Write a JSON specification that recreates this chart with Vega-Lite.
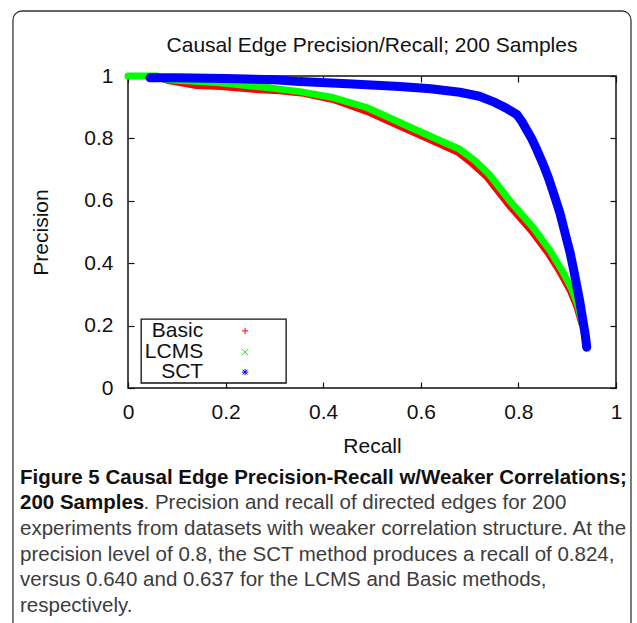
{
  "$schema": "https://vega.github.io/schema/vega-lite/v6.json",
  "width": 488,
  "height": 312,
  "autosize": "none",
  "padding": {"left": 128, "top": 76, "right": 21, "bottom": 235},
  "background": "white",
  "config": {
    "view": {"stroke": "#111", "strokeWidth": 1.5},
    "axis": {"grid": false, "domain": false, "labelFlush": false, "labelFont": "Liberation Sans", "labelFontSize": 21, "labelColor": "#111", "titleFont": "Liberation Sans", "titleFontSize": 21, "titleFontWeight": "normal", "titleColor": "#111", "tickColor": "#111", "tickSize": -6, "tickWidth": 1.2}
  },
  "datasets": {
    "curves": [
      {"method": "Basic", "recall": 0.0, "precision": 1.0},
      {"method": "Basic", "recall": 0.05, "precision": 1.0},
      {"method": "Basic", "recall": 0.08, "precision": 0.985},
      {"method": "Basic", "recall": 0.14, "precision": 0.968},
      {"method": "Basic", "recall": 0.19, "precision": 0.965},
      {"method": "Basic", "recall": 0.27, "precision": 0.954},
      {"method": "Basic", "recall": 0.31, "precision": 0.951},
      {"method": "Basic", "recall": 0.36, "precision": 0.943},
      {"method": "Basic", "recall": 0.42, "precision": 0.923},
      {"method": "Basic", "recall": 0.489, "precision": 0.885},
      {"method": "Basic", "recall": 0.557, "precision": 0.837},
      {"method": "Basic", "recall": 0.625, "precision": 0.79},
      {"method": "Basic", "recall": 0.675, "precision": 0.755},
      {"method": "Basic", "recall": 0.705, "precision": 0.718},
      {"method": "Basic", "recall": 0.735, "precision": 0.675},
      {"method": "Basic", "recall": 0.78, "precision": 0.585},
      {"method": "Basic", "recall": 0.825, "precision": 0.505},
      {"method": "Basic", "recall": 0.86, "precision": 0.432},
      {"method": "Basic", "recall": 0.886, "precision": 0.367},
      {"method": "Basic", "recall": 0.906, "precision": 0.31},
      {"method": "Basic", "recall": 0.919, "precision": 0.26},
      {"method": "Basic", "recall": 0.926, "precision": 0.222},
      {"method": "Basic", "recall": 0.929, "precision": 0.205},
      {"method": "LCMS", "recall": 0.0, "precision": 1.0},
      {"method": "LCMS", "recall": 0.06, "precision": 1.0},
      {"method": "LCMS", "recall": 0.075, "precision": 0.99},
      {"method": "LCMS", "recall": 0.1, "precision": 0.986},
      {"method": "LCMS", "recall": 0.189, "precision": 0.978},
      {"method": "LCMS", "recall": 0.291, "precision": 0.962},
      {"method": "LCMS", "recall": 0.352, "precision": 0.95},
      {"method": "LCMS", "recall": 0.42, "precision": 0.931},
      {"method": "LCMS", "recall": 0.489, "precision": 0.899},
      {"method": "LCMS", "recall": 0.557, "precision": 0.851},
      {"method": "LCMS", "recall": 0.625, "precision": 0.803},
      {"method": "LCMS", "recall": 0.68, "precision": 0.765},
      {"method": "LCMS", "recall": 0.71, "precision": 0.73},
      {"method": "LCMS", "recall": 0.74, "precision": 0.685},
      {"method": "LCMS", "recall": 0.785, "precision": 0.595},
      {"method": "LCMS", "recall": 0.83, "precision": 0.515},
      {"method": "LCMS", "recall": 0.865, "precision": 0.44},
      {"method": "LCMS", "recall": 0.89, "precision": 0.375},
      {"method": "LCMS", "recall": 0.91, "precision": 0.315},
      {"method": "LCMS", "recall": 0.922, "precision": 0.265},
      {"method": "LCMS", "recall": 0.928, "precision": 0.225},
      {"method": "LCMS", "recall": 0.931, "precision": 0.205},
      {"method": "SCT", "recall": 0.045, "precision": 0.994},
      {"method": "SCT", "recall": 0.1, "precision": 0.994},
      {"method": "SCT", "recall": 0.2, "precision": 0.992},
      {"method": "SCT", "recall": 0.3, "precision": 0.988},
      {"method": "SCT", "recall": 0.352, "precision": 0.982},
      {"method": "SCT", "recall": 0.45, "precision": 0.975},
      {"method": "SCT", "recall": 0.557, "precision": 0.966},
      {"method": "SCT", "recall": 0.62, "precision": 0.959},
      {"method": "SCT", "recall": 0.68, "precision": 0.948},
      {"method": "SCT", "recall": 0.72, "precision": 0.935},
      {"method": "SCT", "recall": 0.748, "precision": 0.918},
      {"method": "SCT", "recall": 0.775, "precision": 0.897},
      {"method": "SCT", "recall": 0.797, "precision": 0.876},
      {"method": "SCT", "recall": 0.808, "precision": 0.852},
      {"method": "SCT", "recall": 0.817, "precision": 0.827},
      {"method": "SCT", "recall": 0.827, "precision": 0.8},
      {"method": "SCT", "recall": 0.838, "precision": 0.763},
      {"method": "SCT", "recall": 0.85, "precision": 0.72},
      {"method": "SCT", "recall": 0.861, "precision": 0.676},
      {"method": "SCT", "recall": 0.873, "precision": 0.62},
      {"method": "SCT", "recall": 0.885, "precision": 0.561},
      {"method": "SCT", "recall": 0.895, "precision": 0.5},
      {"method": "SCT", "recall": 0.906, "precision": 0.433},
      {"method": "SCT", "recall": 0.913, "precision": 0.38},
      {"method": "SCT", "recall": 0.92, "precision": 0.324},
      {"method": "SCT", "recall": 0.926, "precision": 0.275},
      {"method": "SCT", "recall": 0.932, "precision": 0.218},
      {"method": "SCT", "recall": 0.937, "precision": 0.17},
      {"method": "SCT", "recall": 0.94, "precision": 0.131}
    ],
    "legend": [
      {"method": "Basic", "lx": 0.154, "sx": 0.24, "ly": 0.183},
      {"method": "LCMS", "lx": 0.154, "sx": 0.24, "ly": 0.115},
      {"method": "SCT", "lx": 0.154, "sx": 0.24, "ly": 0.051}
    ],
    "boxes": [
      {"kind": "frame", "x1": -0.2357, "x2": 1.0307, "y1": 1.2083, "y2": -0.95},
      {"kind": "legend", "x1": 0.027, "x2": 0.324, "y1": 0.221, "y2": 0.016}
    ],
    "titles": [
      {"tx": 0.5, "ty": 1.077, "text": "Causal Edge Precision/Recall; 200 Samples"}
    ],
    "caption": [
      {"weight": "bold", "cx": -0.2213, "cy": -0.288, "text": "Figure 5 Causal Edge Precision-Recall w/Weaker Correlations;"},
      {"weight": "bold", "cx": -0.2213, "cy": -0.37, "text": "200 Samples"},
      {"weight": "normal", "cx": 0.0318, "cy": -0.37, "text": ". Precision and recall of directed edges for 200"},
      {"weight": "normal", "cx": -0.2213, "cy": -0.452, "text": "experiments from datasets with weaker correlation structure. At the"},
      {"weight": "normal", "cx": -0.2213, "cy": -0.534, "text": "precision level of 0.8, the SCT method produces a recall of 0.824,"},
      {"weight": "normal", "cx": -0.2213, "cy": -0.616, "text": "versus 0.640 and 0.637 for the LCMS and Basic methods,"},
      {"weight": "normal", "cx": -0.2213, "cy": -0.698, "text": "respectively."}
    ]
  },
  "resolve": {"axis": {"x": "independent", "y": "independent"}},
  "layer": [
    {
      "data": {"name": "boxes"},
      "transform": [{"filter": "datum.kind === 'frame'"}],
      "mark": {"type": "rect", "fill": "transparent", "stroke": "#333", "strokeWidth": 1.3, "cornerRadius": 9},
      "encoding": {
        "x": {"field": "x1", "type": "quantitative", "scale": {"domain": [0, 1], "nice": false, "zero": false}, "axis": null},
        "x2": {"field": "x2"},
        "y": {"field": "y1", "type": "quantitative", "scale": {"domain": [0, 1], "nice": false, "zero": false}, "axis": null},
        "y2": {"field": "y2"}
      }
    },
    {
      "data": {"name": "curves"},
      "transform": [{"filter": "datum.method === 'Basic'"}],
      "mark": {"type": "line", "color": "#ff0000", "strokeWidth": 6, "strokeCap": "round", "strokeJoin": "round"},
      "encoding": {
        "x": {"field": "recall", "type": "quantitative", "axis": {"orient": "bottom", "values": [0, 0.2, 0.4, 0.6, 0.8, 1], "format": "~g", "title": "Recall", "labelPadding": 19, "titlePadding": 13}},
        "y": {"field": "precision", "type": "quantitative", "axis": {"orient": "left", "values": [0, 0.2, 0.4, 0.6, 0.8, 1], "format": "~g", "title": "Precision", "labelPadding": 21, "titlePadding": 32}}
      }
    },
    {
      "data": {"name": "curves"},
      "transform": [{"filter": "datum.method === 'LCMS'"}],
      "mark": {"type": "line", "color": "#00ff00", "strokeWidth": 7, "strokeCap": "round", "strokeJoin": "round"},
      "encoding": {
        "x": {"field": "recall", "type": "quantitative", "axis": null},
        "y": {"field": "precision", "type": "quantitative", "axis": null}
      }
    },
    {
      "data": {"name": "curves"},
      "transform": [{"filter": "datum.method === 'SCT'"}],
      "mark": {"type": "line", "color": "#0000ff", "strokeWidth": 9, "strokeCap": "round", "strokeJoin": "round"},
      "encoding": {
        "x": {"field": "recall", "type": "quantitative", "axis": null},
        "y": {"field": "precision", "type": "quantitative", "axis": null}
      }
    },
    {
      "data": {"name": "boxes"},
      "transform": [{"filter": "datum.kind === 'legend'"}],
      "mark": {"type": "rect", "fill": "white", "stroke": "#111", "strokeWidth": 1.3},
      "encoding": {
        "x": {"field": "x1", "type": "quantitative", "axis": {"orient": "top", "values": [0, 0.2, 0.4, 0.6, 0.8, 1], "labels": false, "title": null}},
        "x2": {"field": "x2"},
        "y": {"field": "y1", "type": "quantitative", "axis": {"orient": "right", "values": [0, 0.2, 0.4, 0.6, 0.8, 1], "labels": false, "title": null}},
        "y2": {"field": "y2"}
      }
    },
    {
      "data": {"name": "legend"},
      "mark": {"type": "text", "align": "right", "baseline": "middle", "font": "Liberation Sans", "fontSize": 21, "color": "#111"},
      "encoding": {
        "x": {"field": "lx", "type": "quantitative", "axis": null},
        "y": {"field": "ly", "type": "quantitative", "axis": null},
        "text": {"field": "method"}
      }
    },
    {
      "data": {"name": "legend"},
      "mark": {"type": "point", "filled": false, "strokeWidth": 1, "size": 40, "opacity": 1},
      "encoding": {
        "x": {"field": "sx", "type": "quantitative", "axis": null},
        "y": {"field": "ly", "type": "quantitative", "axis": null},
        "color": {"field": "method", "type": "nominal", "scale": {"domain": ["Basic", "LCMS", "SCT"], "range": ["#ff0000", "#00ff00", "#0000ff"]}, "legend": null},
        "shape": {"field": "method", "type": "nominal", "scale": {"domain": ["Basic", "LCMS", "SCT"], "range": ["M-1,0L1,0M0,-1L0,1", "M-1,-1L1,1M1,-1L-1,1", "M-1,0L1,0M0,-1L0,1M-0.75,-0.75L0.75,0.75M0.75,-0.75L-0.75,0.75"]}, "legend": null}
      }
    },
    {
      "data": {"name": "titles"},
      "mark": {"type": "text", "align": "center", "baseline": "alphabetic", "font": "Liberation Sans", "fontSize": 21, "color": "#111"},
      "encoding": {
        "x": {"field": "tx", "type": "quantitative", "axis": null},
        "y": {"field": "ty", "type": "quantitative", "axis": null},
        "text": {"field": "text"}
      }
    },
    {
      "data": {"name": "caption"},
      "transform": [{"filter": "datum.weight === 'bold'"}],
      "mark": {"type": "text", "align": "left", "baseline": "middle", "font": "Liberation Sans", "fontWeight": "bold", "fontSize": 20.5, "color": "#111"},
      "encoding": {
        "x": {"field": "cx", "type": "quantitative", "axis": null},
        "y": {"field": "cy", "type": "quantitative", "axis": null},
        "text": {"field": "text"}
      }
    },
    {
      "data": {"name": "caption"},
      "transform": [{"filter": "datum.weight === 'normal'"}],
      "mark": {"type": "text", "align": "left", "baseline": "middle", "font": "Liberation Sans", "fontWeight": "normal", "fontSize": 20.5, "color": "#3c3c3c"},
      "encoding": {
        "x": {"field": "cx", "type": "quantitative", "axis": null},
        "y": {"field": "cy", "type": "quantitative", "axis": null},
        "text": {"field": "text"}
      }
    }
  ]
}
